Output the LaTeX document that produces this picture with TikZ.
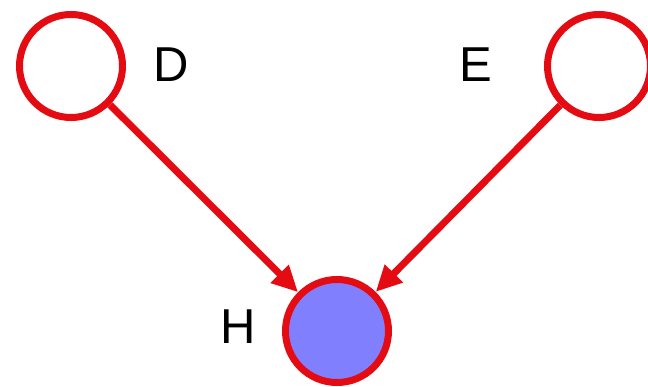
\documentclass[tikz,border=0pt]{standalone}
\usepackage{fontspec}
\setmainfont{Liberation Sans}
\usetikzlibrary{arrows.meta}
\definecolor{nodered}{RGB}{228,12,18}
\definecolor{nodefill}{RGB}{128,128,255}
\begin{document}
\begin{tikzpicture}[x=1pt,y=1pt,
  vnode/.style={circle,draw=nodered,line width=7pt,minimum size=103pt,inner sep=0pt},
  lbl/.style={font=\fontsize{49}{52}\selectfont,inner sep=0pt},
  conn/.style={draw=nodered,line width=7pt,-{Triangle[length=26pt,width=24pt]}}]
\useasboundingbox (0,0) rectangle (648,386);
\node[vnode,fill=white] (D) at (71,320) {};
\node[vnode,fill=white] (E) at (599,320) {};
\node[vnode,fill=nodefill] (H) at (337,55) {};
\node[lbl] (Dl) at (171,321) {D};
\node[lbl] (El) at (476,321) {E};
\node[lbl] (Hl) at (238,59) {H};
\draw[conn] (D) -- (H);
\draw[conn] (E) -- (H);
\end{tikzpicture}
\end{document}
